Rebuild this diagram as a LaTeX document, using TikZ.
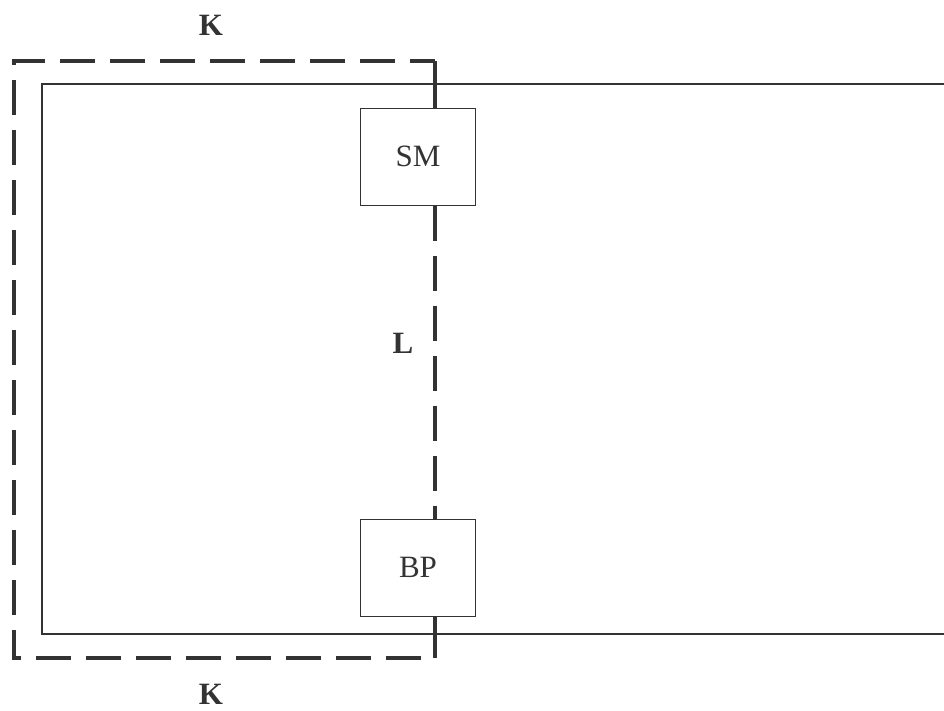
\documentclass[tikz,border=0pt]{standalone}
\usepackage{fontspec}
\setmainfont{Liberation Serif}
\begin{document}
\begin{tikzpicture}[x=1pt,y=-1pt,
  boxstyle/.style={draw=black!80, line width=1pt, minimum width=115pt, minimum height=97pt, inner sep=0pt, font=\fontsize{31}{34}\selectfont, text=black!80},
  dashline/.style={draw=black!80, line width=4pt, dash pattern=on 35pt off 15pt},
  thickline/.style={draw=black!80, line width=4pt},
  thinline/.style={draw=black!80, line width=2pt},
  lab/.style={font=\fontsize{31}{34}\selectfont\bfseries, text=black!80}]
\useasboundingbox (0,0) rectangle (944,710);
\fill[white] (0,0) rectangle (944,710);
% solid outer rectangle (open to the right edge)
\coordinate (rt) at (944,84);
\coordinate (lt) at (42,84);
\coordinate (lb) at (42,634);
\coordinate (rb) at (944,634);
\draw[thinline] (rt) -- (lt) -- (lb) -- (rb);
% boxes
\node[boxstyle] (sm) at (418,156.5) {SM};
\node[boxstyle] (bp) at (418,567.5) {BP};
% dashed K loop
\coordinate (kt) at (435,61);
\coordinate (ktl) at (14,61);
\coordinate (kbl) at (14,658);
\coordinate (kb) at (435,658);
\draw[dashline, dash phase=10pt] (kt) -- (ktl) -- (kbl) -- (kb);
\draw[thickline] (kt) -- (kt |- sm.north);
\draw[thickline] (kb) -- (kb |- bp.south);
% dashed L line
\draw[dashline, dash phase=0pt] (kt |- sm.south) -- (kt |- bp.north);
% labels
\node[lab] (k1) at (211,25) {K};
\node[lab] (k2) at (211,694) {K};
\node[lab] (l) at (403,343) {L};
\end{tikzpicture}
\end{document}
